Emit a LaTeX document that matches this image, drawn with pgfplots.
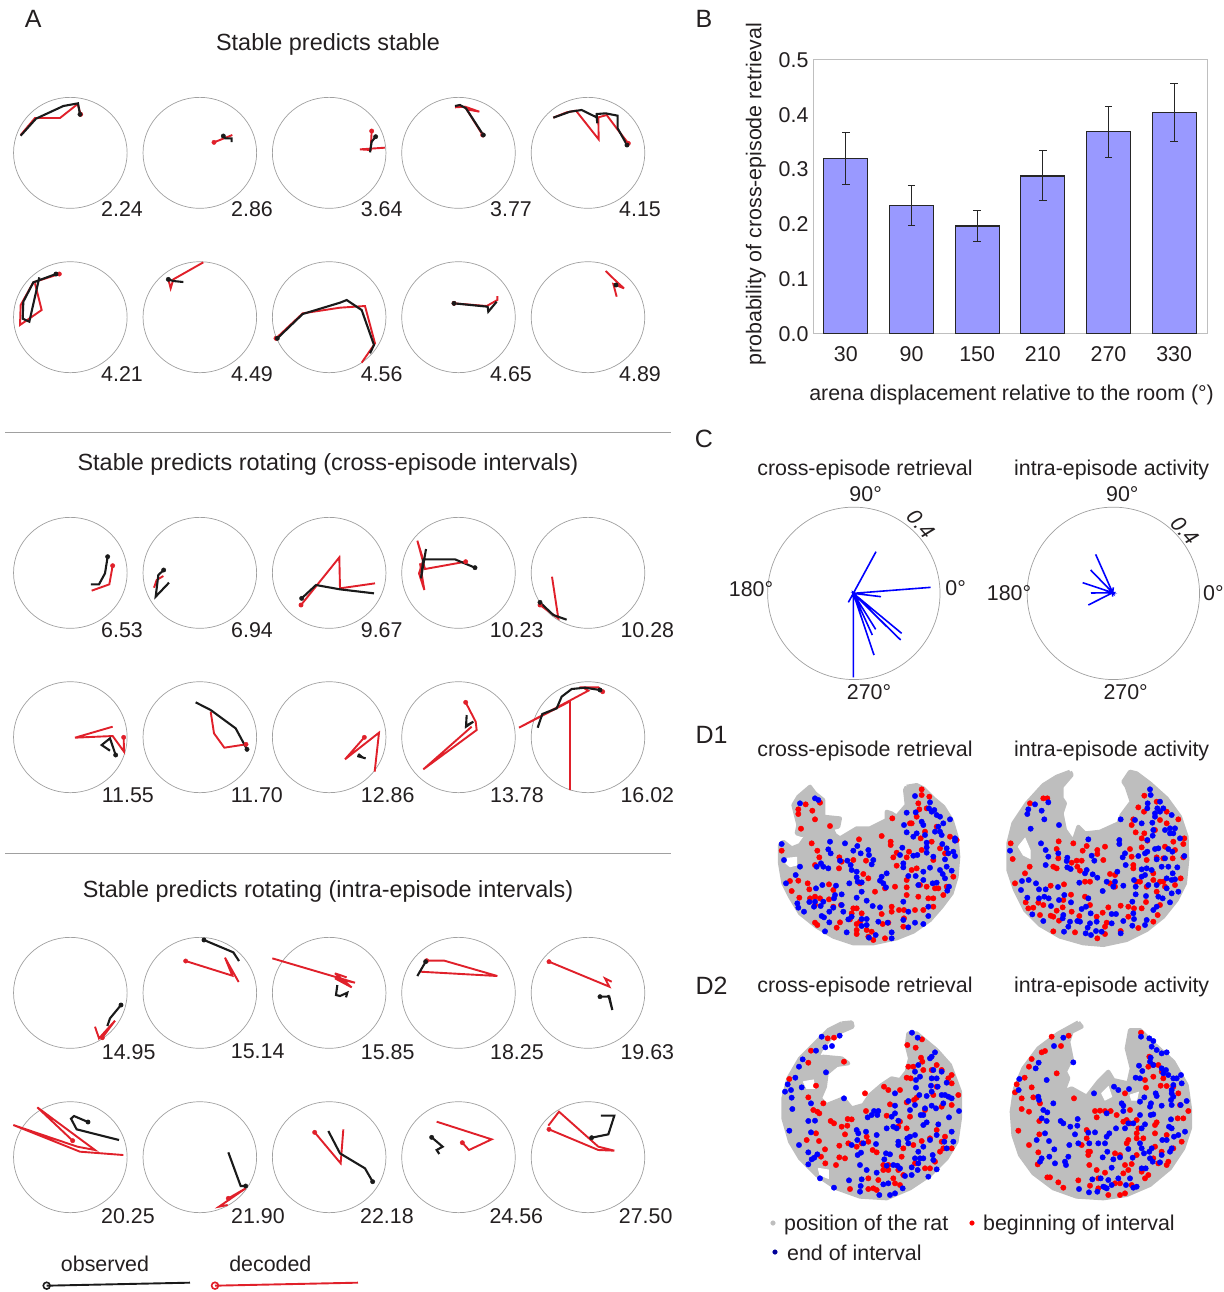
\documentclass[border=0pt]{standalone}
\usepackage{pgfplots}
\pgfplotsset{compat=1.18}
\usepackage{fontspec}
\setmainfont{Liberation Sans}
\definecolor{tcol}{HTML}{231F20}
\definecolor{rd}{HTML}{E0202A}
\definecolor{bk}{HTML}{1A1A1A}
\definecolor{cg}{HTML}{A0A0A0}
\definecolor{fg}{HTML}{BEBEBE}
\pgfplotsset{
 off/.style 2 args={x filter/.expression={x+#1}, y filter/.expression={y+#2}},
 B/.style={color=bk, line width=2.1pt, miter limit=5, mark=*, mark indices={1}, mark size=2.2pt, mark options={fill=bk, draw=bk, line width=0.4pt}},
 R/.style={color=rd, line width=1.9pt, miter limit=5, mark=*, mark indices={1}, mark size=2.2pt, mark options={fill=rd, draw=rd, line width=0.4pt}},
 BB/.style={color=bk, line width=2.1pt, miter limit=5, mark=none},
 RR/.style={color=rd, line width=1.9pt, miter limit=5, mark=none},
 foot/.style={fill=fg, draw=fg, line width=4pt, line join=round, mark=none},
 hole/.style={fill=white, draw=white, line width=1pt, mark=none},
 rdots/.style={only marks, mark=*, mark size=2.7pt, mark options={fill=red, draw=red, line width=0.4pt}},
 bdots/.style={only marks, mark=*, mark size=2.7pt, mark options={fill=blue, draw=blue, line width=0.4pt}},
 spoke/.style={color=blue, line width=1.6pt, mark=none},
}
\tikzset{lbl/.style={font=\fontsize{21.4}{25}\selectfont, text=tcol, inner sep=0pt},
 ttl/.style={font=\fontsize{23.4}{28}\selectfont, text=tcol, inner sep=0pt},
 ring/.style={draw=cg, line width=0.7pt}}
\newcommand{\ringat}[2]{\draw[ring] (axis cs:#1,#2) ellipse [x radius=56.8pt, y radius=55.5pt];}
\begin{document}
\begin{tikzpicture}
\useasboundingbox (0,0) rectangle (1223pt,1292pt);
\begin{axis}[at={(0,0)},anchor=south west,scale only axis,width=1223pt,height=1292pt,
 xmin=0,xmax=3669,ymin=0,ymax=3876,y dir=reverse,hide axis,clip=false]
% rings
\ringat{211}{458.5}\ringat{599.5}{458.5}\ringat{987.5}{458.5}\ringat{1375.5}{458.5}\ringat{1764}{458.5}
\ringat{211}{951.5}\ringat{599.5}{951.5}\ringat{987.5}{951.5}\ringat{1375.5}{951.5}\ringat{1764}{951.5}
\ringat{211}{1718.5}\ringat{599.5}{1718.5}\ringat{987.5}{1718.5}\ringat{1375.5}{1718.5}\ringat{1764}{1718.5}
\ringat{211}{2211.5}\ringat{599.5}{2211.5}\ringat{987.5}{2211.5}\ringat{1375.5}{2211.5}\ringat{1764}{2211.5}
\ringat{211}{2978.5}\ringat{599.5}{2978.5}\ringat{987.5}{2978.5}\ringat{1375.5}{2978.5}\ringat{1764}{2978.5}
\ringat{211}{3471.5}\ringat{599.5}{3471.5}\ringat{987.5}{3471.5}\ringat{1375.5}{3471.5}\ringat{1764}{3471.5}
% rules
\draw[cg,line width=0.7pt] (axis cs:15,1296)--(axis cs:2013,1296);
\draw[cg,line width=0.7pt] (axis cs:15,2559)--(axis cs:2013,2559);
% row 1
\addplot[R,off={0}{240}] coordinates {(242,103)(233,72)(180,114)(105,114)(62,165)};
\addplot[B,off={0}{240}] coordinates {(240,103)(234,70)(190,78)(108,116)(62,167)};
\addplot[R,off={0}{240}] coordinates {(642,187)(697,165)};
\addplot[B,off={0}{240}] coordinates {(670,168)(676,175)(695,175)(695,186)};
\addplot[R,off={1020}{240}] coordinates {(95,153)(92,210)(60,208)(135,203)};
\addplot[B,off={1020}{240}] coordinates {(107,170)(95,185)(90,217)};
\addplot[R,off={1020}{240}] coordinates {(428,165)(380,88)(418,95)(375,80)(345,82)};
\addplot[B,off={1020}{240}] coordinates {(430,165)(378,85)(360,75)(345,78)};
\addplot[R,off={1020}{240}] coordinates {(865,190)(830,145)(800,105)(775,112)(776,178)(708,92)(680,97)(640,113)};
\addplot[B,off={1020}{240}] coordinates {(861,195)(833,145)(833,107)(797,100)(770,102)(772,130)(770,112)(725,90)(690,95)(640,113)};
% row 2
\addplot[R,off={0}{240}] coordinates {(178,582)(100,607)(62,675)(60,735)(125,690)(105,610)};
\addplot[B,off={0}{240}] coordinates {(168,582)(100,607)(70,665)(68,716)(88,725)(118,592)};
\addplot[RR,off={0}{240}] coordinates {(610,547)(520,598)(512,625)(505,598)};
\addplot[B,off={0}{240}] coordinates {(505,598)(520,603)(550,606)};
\addplot[R,off={0}{240}] coordinates {(828,775)(908,700)(1020,683)(1095,678)(1125,790)(1085,848)};
\addplot[B,off={0}{240}] coordinates {(832,775)(908,702)(1020,668)(1040,660)(1085,690)(1122,795)(1110,820)};
\addplot[R,off={1020}{240}] coordinates {(342,670)(440,678)(472,660)(472,648)};
\addplot[B,off={1020}{240}] coordinates {(342,670)(443,680)(445,695)(470,665)};
\addplot[RR,off={1020}{240}] coordinates {(797,573)(832,607)(852,625)(820,612)(830,650)};
\addplot[B,off={1020}{240}] coordinates {(828,615)(829,616)};
% row 3
\addplot[R,off={0}{1500}] coordinates {(338,197)(328,253)(275,272)};
\addplot[B,off={0}{1500}] coordinates {(323,170)(315,220)(297,253)(273,253)};
\addplot[RR,off={0}{1500}] coordinates {(490,228)(470,240)(462,263)};
\addplot[B,off={0}{1500}] coordinates {(491,210)(475,225)(467,290)(507,248)};
\addplot[R,off={0}{1500}] coordinates {(903,315)(1018,172)(1020,265)(1125,250)};
\addplot[B,off={0}{1500}] coordinates {(905,295)(948,255)(1020,268)(1122,280)};
\addplot[R,off={1020}{1500}] coordinates {(377,185)(255,207)(232,122)(250,180)(237,220)(253,270)(240,190)};
\addplot[B,off={1020}{1500}] coordinates {(405,203)(345,178)(250,178)(243,235)(258,147)};
\addplot[R,off={1020}{1500}] coordinates {(600,315)(655,355)(636,230)};
\addplot[B,off={1020}{1500}] coordinates {(600,307)(640,345)(680,359)};
% row 4
\addplot[R,off={0}{1500}] coordinates {(371,712)(372,755)(338,708)(225,713)(338,680)};
\addplot[B,off={0}{1500}] coordinates {(347,765)(330,715)(305,735)(330,752)};
\addplot[R,off={0}{1500}] coordinates {(738,733)(673,743)(642,700)(632,635)};
\addplot[B,off={0}{1500}] coordinates {(741,748)(707,685)(632,630)(587,607)};
\addplot[R,off={1020}{1500}] coordinates {(73,712)(15,778)(117,698)(104,815)};
\addplot[BB,off={1020}{1500}] coordinates {(55,762)(65,770)(52,768)(77,775)};
\addplot[R,off={1020}{1500}] coordinates {(377,607)(407,665)(410,690)(250,808)(395,680)};
\addplot[BB,off={1020}{1500}] coordinates {(380,645)(378,680)(400,665)(382,675)};
\addplot[R,off={1020}{1500}] coordinates {(788,575)(775,562)(728,562)(745,572)(537,683)(690,604)(690,870)};
\addplot[B,off={1020}{1500}] coordinates {(780,570)(735,563)(695,567)(665,590)(650,625)(607,642)(593,683)};
% row 5
\addplot[R,off={0}{2760}] coordinates {(307,353)(345,302)(297,355)(285,320)};
\addplot[B,off={0}{2760}] coordinates {(363,255)(330,295)(322,318)};
\addplot[R,off={0}{2760}] coordinates {(557,123)(697,167)(675,113)(716,186)};
\addplot[B,off={0}{2760}] coordinates {(612,60)(700,97)(717,123)};
\addplot[RR,off={0}{2760}] coordinates {(817,115)(1065,188)(1005,175)(1055,202)(1005,160)(1040,172)};
\addplot[BB,off={0}{2760}] coordinates {(1012,195)(1008,225)(1020,228)(1042,218)(1038,232)};
\addplot[R,off={1020}{2760}] coordinates {(260,122)(313,122)(472,168)(240,155)};
\addplot[B,off={1020}{2760}] coordinates {(257,125)(232,168)};
\addplot[R,off={1020}{2760}] coordinates {(627,125)(808,200)(795,175)(815,185)};
\addplot[B,off={1020}{2760}] coordinates {(780,230)(808,230)(817,270)(805,225)};
% row 6
\addplot[R,off={0}{2760}] coordinates {(218,662)(112,562)(285,690)(232,680)(40,615)(240,695)(370,705)};
\addplot[B,off={0}{2760}] coordinates {(264,606)(222,588)(213,596)(230,628)(357,660)};
\addplot[R,off={0}{2760}] coordinates {(685,835)(737,805)(657,860)(683,855)};
\addplot[B,off={0}{2760}] coordinates {(737,798)(722,798)(685,697)};
\addplot[R,off={0}{2760}] coordinates {(944,637)(1022,730)(1030,628)};
\addplot[B,off={0}{2760}] coordinates {(1118,785)(1095,745)(1020,700)(985,633)};
\addplot[R,off={1020}{2760}] coordinates {(367,668)(387,690)(455,658)(290,605)};
\addplot[B,off={1020}{2760}] coordinates {(275,652)(308,680)(290,690)(298,702)};
\addplot[R,off={1020}{2760}] coordinates {(627,628)(775,690)(823,692)(775,680)(657,575)(625,617)};
\addplot[B,off={1020}{2760}] coordinates {(755,653)(805,643)(823,587)(783,587)};
% legend A
\addplot[color=bk,line width=1.9pt,mark=o,mark indices={1},mark size=3.4pt,mark options={draw=bk,fill=white,line width=1.6pt}] coordinates {(140,3857)(570,3848)};
\addplot[color=rd,line width=1.9pt,mark=o,mark indices={1},mark size=3.4pt,mark options={draw=rd,fill=white,line width=1.6pt}] coordinates {(645,3857)(1074,3848)};
% labels A
\foreach \t/\x/\y in {2.24/303/628,2.86/693/628,3.64/1082/628,3.77/1470/628,4.15/1857/628,
 4.21/303/1122,4.49/693/1122,4.56/1082/1122,4.65/1470/1122,4.89/1857/1122,
 6.53/303/1890,6.94/693/1890,9.67/1082/1890,10.23/1469/1890,10.28/1861/1890,
 11.55/305/2385,11.70/692/2385,12.86/1082/2385,13.78/1470/2385,16.02/1861/2385,
 14.95/305/3155,15.14/692/3155,15.85/1082/3155,18.25/1470/3155,19.63/1861/3155,
 20.25/303/3648,21.90/693/3648,22.18/1080/3648,24.56/1468/3648,27.50/1856/3648}{
 \edef\temp{\noexpand\node[lbl,anchor=west] at (axis cs:\x,\y) {\t};}\temp}
\node[ttl] at (axis cs:984,133) {Stable predicts stable};
\node[ttl] at (axis cs:984,1393) {Stable predicts rotating (cross-episode intervals)};
\node[ttl] at (axis cs:984,2673) {Stable predicts rotating (intra-episode intervals)};
\node[lbl] at (axis cs:315,3792) {observed};
\node[lbl] at (axis cs:811,3792) {decoded};
\node[lbl,font=\fontsize{25}{28}\selectfont] at (axis cs:100,57) {A};
\node[lbl,font=\fontsize{25}{28}\selectfont] at (axis cs:2112,57) {B};
\node[lbl,font=\fontsize{25}{28}\selectfont] at (axis cs:2112,1317) {C};
\node[lbl,font=\fontsize{25}{28}\selectfont] at (axis cs:2135,2205) {D1};
\node[lbl,font=\fontsize{25}{28}\selectfont] at (axis cs:2135,2958) {D2};
% panel C
\draw[cg,line width=0.7pt] (axis cs:2561.5,1780) circle [radius=86.2pt];
\draw[cg,line width=0.7pt] (axis cs:3340,1780) circle [radius=86.2pt];
\addplot[spoke,off={2160}{1410}] coordinates {(400,370)(468,245)(400,370)(385,397)(400,370)(632,352)(400,370)(483,380)(400,370)(545,490)(400,370)(542,510)(400,370)(500,470)(400,370)(462,555)(400,370)(457,495)(400,370)(467,478)(400,370)(400,622)};
\addplot[spoke,off={2160}{1410}] coordinates {(1178,368)(1127,253)(1178,368)(1112,300)(1178,368)(1088,338)(1178,368)(1113,369)(1178,368)(1105,405)(1178,368)(1180,352)(1178,368)(1178,380)};
\node[lbl] at (axis cs:2597,1482) {90°};
\node[lbl,rotate=-48] at (axis cs:2764,1572) {\textit{0.4}};
\node[lbl] at (axis cs:2253,1768) {180°};
\node[lbl] at (axis cs:2867,1765) {0°};
\node[lbl] at (axis cs:2607,2075) {270°};
\node[lbl] at (axis cs:3367,1482) {90°};
\node[lbl,rotate=-48] at (axis cs:3556,1592) {\textit{0.4}};
\node[lbl] at (axis cs:3027,1780) {180°};
\node[lbl] at (axis cs:3640,1780) {0°};
\node[lbl] at (axis cs:3377,2075) {270°};
\node[lbl] at (axis cs:2595,1409) {cross-episode retrieval};
\node[lbl] at (axis cs:3335,1409) {intra-episode activity};
\node[lbl] at (axis cs:2595,2252) {cross-episode retrieval};
\node[lbl] at (axis cs:3335,2252) {intra-episode activity};
\node[lbl] at (axis cs:2595,2960) {cross-episode retrieval};
\node[lbl] at (axis cs:3335,2960) {intra-episode activity};
% D1 left
\addplot[foot,off={2280}{2310}] coordinates {(440,50)(470,45)(490,55)(520,85)(550,110)(575,150)(590,200)(595,260)(590,320)(575,370)(545,410)(510,450)(460,485)(410,505)(340,520)(280,520)(220,500)(170,470)(120,430)(90,380)(70,340)(60,280)(60,225)(70,215)(95,235)(120,225)(145,190)(125,195)(110,190)(115,165)(100,105)(115,80)(150,50)(165,70)(190,90)(190,140)(240,145)(235,170)(215,175)(225,195)(240,205)(290,175)(330,175)(380,150)(380,125)(395,130)(410,140)(440,105)(435,60)(440,50)};
\addplot[hole,off={2280}{2310}] coordinates {(80,265)(110,262)(110,285)(90,290)(78,280)(80,265)};
\addplot[rdots,off={2280}{2310}] coordinates {(485,58)(485,75)(508,80)(475,100)(478,118)(500,115)(115,118)(115,132)(137,103)(157,122)(180,98)(165,148)(123,176)(210,168)(155,220)(172,242)(178,262)(165,285)(238,262)(245,275)(237,295)(280,270)(297,208)(365,198)(392,215)(392,225)(397,145)(410,248)(400,262)(318,272)(410,287)(447,245)(440,262)(485,240)(482,205)(450,160)(455,160)(470,140)(495,185)(530,170)(570,200)(590,210)(540,235)(515,215)(555,250)(520,270)(470,295)(455,300)(440,330)(440,352)(440,375)(475,380)(405,350)(345,365)(310,312)(325,325)(300,340)(375,355)(90,333)(115,332)(95,363)(118,383)(143,340)(148,358)(150,385)(165,380)(180,385)(165,405)(207,343)(220,360)(207,388)(220,410)(243,405)(280,415)(290,415)(275,430)(305,430)(365,432)(395,410)(395,425)(417,420)(432,420)(432,445)(430,470)(465,420)(490,420)(520,410)(505,385)(520,385)(535,355)(550,375)(500,350)(480,345)(165,458)(172,465)(240,457)(230,473)(290,462)(290,480)(290,492)(300,455)(320,480)(335,485)(325,500)(340,510)(375,505)(368,462)(385,458)(270,448)(580,320)(560,350)(525,355)(65,242)};
\addplot[bdots,off={2280}{2310}] coordinates {(465,78)(510,97)(507,115)(515,125)(523,120)(530,135)(540,140)(550,160)(535,170)(540,185)(525,185)(570,148)(545,195)(585,205)(585,212)(495,195)(470,190)(460,200)(485,155)(490,165)(440,128)(467,127)(432,165)(440,187)(500,218)(500,232)(427,233)(420,255)(460,257)(472,255)(500,248)(520,260)(547,222)(560,235)(565,250)(580,245)(585,258)(555,268)(510,293)(490,305)(430,280)(430,292)(540,300)(560,290)(575,302)(548,312)(555,325)(445,318)(467,318)(490,330)(475,345)(518,340)(530,338)(567,350)(562,362)(120,100)(165,85)(175,90)(210,215)(205,238)(212,250)(255,220)(280,242)(292,228)(302,250)(325,240)(327,255)(340,270)(335,283)(120,290)(183,280)(170,290)(190,290)(205,295)(240,272)(262,272)(272,285)(275,300)(290,305)(290,322)(268,340)(293,335)(305,337)(380,310)(365,320)(360,332)(370,340)(378,352)(65,222)(72,270)(107,315)(78,340)(168,355)(187,345)(228,347)(225,375)(222,385)(245,373)(148,396)(165,395)(190,395)(182,408)(112,400)(115,413)(132,425)(162,410)(220,413)(245,405)(208,425)(185,438)(192,442)(208,457)(250,425)(275,440)(265,448)(290,383)(305,365)(320,392)(338,408)(360,412)(305,447)(320,447)(305,468)(320,465)(355,455)(383,458)(430,395)(445,425)(430,450)(445,472)(465,458)(490,462)(505,438)(505,410)(195,484)(260,487)(347,495)(327,503)(395,487)(395,505)};
% D1 right
\addplot[foot,off={2970}{2310}] coordinates {(240,5)(245,15)(215,50)(215,85)(225,100)(215,130)(225,180)(250,215)(265,170)(285,190)(330,185)(385,160)(395,135)(425,95)(410,50)(400,35)(420,5)(440,10)(480,40)(530,85)(570,140)(590,200)(592,270)(585,340)(560,390)(520,440)(470,480)(410,510)(340,525)(280,520)(210,500)(150,465)(105,420)(75,360)(55,300)(55,220)(70,160)(110,100)(160,45)(200,20)(240,5)};
\addplot[hole,off={2970}{2310}] coordinates {(85,230)(105,205)(120,240)(120,265)(100,255)(85,230)};
\addplot[rdots,off={2970}{2310}] coordinates {(463,77)(445,112)(462,125)(500,95)(530,125)(565,148)(510,150)(530,160)(430,148)(425,165)(437,187)(463,190)(455,205)(472,212)(495,180)(550,215)(583,205)(580,222)(555,240)(525,230)(520,265)(548,265)(580,262)(420,237)(425,260)(430,285)(430,295)(455,232)(500,262)(470,270)(120,100)(160,85)(172,85)(62,220)(68,267)(119,290)(105,310)(75,340)(206,214)(200,237)(205,265)(190,290)(200,295)(250,220)(278,242)(290,228)(322,240)(345,230)(322,252)(340,270)(245,278)(260,272)(275,272)(262,290)(270,302)(222,343)(182,347)(285,335)(300,335)(360,312)(375,315)(360,340)(375,350)(440,335)(450,335)(490,330)(510,335)(490,310)(520,335)(572,325)(555,345)(525,350)(500,365)(470,350)(107,397)(115,415)(130,413)(145,398)(150,435)(160,405)(182,437)(190,440)(200,422)(218,412)(207,452)(243,374)(245,425)(268,438)(220,390)(300,405)(285,380)(320,440)(338,428)(355,412)(392,407)(350,458)(345,470)(415,410)(432,415)(415,440)(445,474)(468,396)(455,415)(503,435)(490,455)(510,405)(190,484)(255,487)(345,492)(322,505)(392,483)};
\addplot[bdots,off={2970}{2310}] coordinates {(480,58)(482,75)(473,100)(472,115)(510,95)(502,115)(520,115)(510,125)(545,135)(495,130)(495,140)(487,158)(490,180)(488,197)(472,210)(525,180)(540,175)(550,190)(555,175)(540,190)(570,205)(435,150)(455,160)(392,148)(388,210)(388,222)(135,103)(175,97)(155,122)(115,118)(112,132)(163,148)(122,176)(207,165)(153,220)(60,242)(167,240)(175,260)(205,250)(167,285)(232,263)(230,273)(232,292)(242,297)(295,208)(305,257)(313,272)(290,300)(285,310)(308,313)(322,323)(268,338)(382,305)(350,335)(375,335)(370,350)(400,347)(338,363)(405,250)(398,262)(407,285)(445,258)(465,250)(472,245)(495,237)(505,235)(535,237)(547,245)(583,258)(500,268)(525,265)(455,298)(470,295)(485,300)(515,290)(535,290)(562,292)(548,310)(530,325)(545,330)(555,328)(465,315)(455,320)(432,330)(437,350)(475,345)(500,345)(530,355)(545,370)(565,365)(505,380)(518,385)(540,397)(468,378)(437,373)(427,395)(112,383)(96,333)(116,330)(93,360)(138,340)(147,358)(167,358)(204,351)(147,385)(163,380)(176,385)(183,408)(207,390)(223,375)(127,433)(160,453)(220,435)(218,445)(243,397)(240,455)(235,470)(222,485)(262,453)(270,455)(275,417)(288,410)(295,385)(302,430)(300,460)(293,473)(287,490)(303,495)(320,455)(318,483)(335,485)(365,432)(378,432)(365,460)(400,453)(430,430)(432,447)(427,467)(470,450)(465,465)(490,420)(500,410)(392,490)};
% D2 left
\addplot[foot,off={2280}{3045}] coordinates {(245,25)(275,22)(278,35)(220,60)(185,100)(170,130)(190,125)(245,130)(265,145)(230,150)(200,175)(195,215)(180,250)(200,270)(250,250)(275,280)(310,270)(330,240)(365,210)(395,190)(420,195)(440,170)(450,130)(440,90)(445,55)(470,55)(530,105)(570,150)(600,230)(600,310)(590,380)(560,430)(510,480)(450,520)(380,550)(300,545)(230,520)(170,480)(120,430)(90,380)(70,310)(70,250)(85,190)(120,130)(165,85)(205,45)(245,25)};
\addplot[hole,off={2280}{3045}] coordinates {(130,200)(160,195)(165,220)(140,220)(130,200)};
\addplot[hole,off={2280}{3045}] coordinates {(175,460)(205,465)(205,490)(180,480)(175,460)};
\addplot[rdots,off={2280}{3045}] coordinates {(486,73)(442,90)(467,98)(203,70)(222,68)(153,107)(145,143)(252,140)(88,192)(168,212)(145,247)(190,265)(160,285)(172,290)(178,295)(212,318)(222,325)(263,312)(275,313)(262,332)(245,335)(255,358)(168,355)(140,375)(177,378)(265,385)(238,392)(195,403)(183,425)(196,445)(238,427)(255,430)(228,450)(315,235)(372,215)(385,225)(445,155)(460,155)(440,188)(452,190)(483,128)(487,140)(490,165)(515,165)(530,150)(545,165)(575,180)(565,190)(575,205)(530,215)(595,240)(575,270)(545,275)(520,240)(470,248)(462,255)(440,262)(390,268)(420,225)(318,288)(380,302)(420,320)(415,335)(440,340)(450,305)(495,285)(510,370)(485,378)(460,390)(530,345)(545,380)(555,365)(550,400)(575,400)(540,410)(525,440)(510,460)(495,460)(430,400)(425,425)(465,445)(370,450)(385,450)(370,465)(385,465)(415,465)(430,480)(400,490)(405,505)(420,510)(355,495)(325,490)(270,522)(325,522)(340,520)(350,525)(338,405)(350,412)(320,365)(325,380)(305,385)(290,395)};
\addplot[bdots,off={2280}{3045}] coordinates {(456,53)(473,68)(185,65)(239,62)(196,97)(216,93)(168,107)(128,133)(117,155)(106,188)(83,208)(75,230)(93,225)(95,248)(97,282)(125,217)(198,172)(252,250)(153,265)(145,318)(165,317)(88,347)(153,352)(117,390)(145,412)(172,418)(163,428)(155,433)(145,448)(405,235)(405,272)(342,288)(355,288)(352,300)(335,300)(323,307)(405,295)(395,305)(415,317)(380,340)(400,335)(410,340)(290,345)(295,355)(318,350)(350,360)(292,375)(275,390)(310,385)(348,387)(303,413)(293,420)(300,450)(320,465)(350,473)(378,415)(390,418)(373,433)(380,452)(400,450)(412,452)(420,460)(415,380)(415,390)(442,370)(445,385)(450,365)(465,360)(468,218)(468,195)(480,185)(475,150)(465,170)(515,125)(525,112)(510,130)(520,165)(545,170)(515,190)(530,190)(560,203)(513,212)(533,215)(515,230)(545,240)(555,240)(565,245)(575,250)(550,265)(500,243)(478,240)(465,270)(445,258)(450,285)(495,280)(515,272)(528,280)(482,300)(490,300)(490,330)(500,322)(535,328)(567,307)(597,288)(575,350)(530,360)(553,380)(510,375)(560,400)(580,380)(518,420)(520,435)(490,395)(475,410)(465,430)(480,430)(490,430)(475,445)(455,457)(473,465)(530,463)(505,485)(455,480)(435,483)(267,496)(305,493)(222,518)(302,513)(300,530)(358,540)(370,508)(385,505)(390,540)(405,535)(428,520)(180,490)};
% D2 right
\addplot[foot,off={2970}{3045}] coordinates {(265,22)(275,35)(245,50)(235,80)(245,130)(225,170)(235,190)(220,230)(245,220)(290,245)(325,200)(355,170)(370,195)(415,205)(425,160)(410,100)(420,45)(450,45)(490,85)(550,140)(590,210)(600,280)(600,340)(580,400)(540,460)(480,510)(410,540)(340,550)(260,545)(190,520)(130,475)(90,420)(70,360)(65,290)(75,220)(100,160)(145,100)(205,55)(265,22)};
\addplot[hole,off={2970}{3045}] coordinates {(335,235)(355,215)(365,245)(345,255)(335,235)};
\addplot[hole,off={2970}{3045}] coordinates {(420,240)(445,232)(440,255)(425,255)(420,240)};
\addplot[rdots,off={2970}{3045}] coordinates {(453,53)(185,65)(236,62)(213,93)(165,108)(155,112)(125,132)(117,155)(104,188)(80,208)(75,232)(125,217)(200,175)(95,250)(130,247)(150,265)(95,282)(117,290)(148,318)(85,347)(148,358)(117,390)(145,412)(143,448)(180,487)(172,487)(205,502)(220,518)(265,496)(252,250)(315,288)(330,287)(345,288)(362,288)(320,307)(380,300)(405,235)(420,285)(468,218)(490,150)(478,125)(475,155)(465,195)(490,185)(512,212)(530,213)(515,170)(520,190)(505,150)(565,235)(550,215)(570,270)(595,288)(563,310)(500,322)(495,330)(580,310)(530,360)(495,355)(445,340)(440,355)(410,385)(415,375)(440,370)(460,370)(410,315)(440,315)(400,320)(420,325)(290,345)(290,370)(275,390)(295,410)(300,410)(295,420)(298,450)(320,465)(345,473)(375,415)(390,420)(405,450)(425,447)(415,465)(400,475)(440,420)(455,470)(465,490)(475,480)(495,395)(490,430)(530,450)(535,440)(505,445)(515,410)(575,380)(550,400)(375,505)(390,505)(325,490)(300,512)(325,520)(355,540)(390,540)(405,535)(425,510)};
\addplot[bdots,off={2970}{3045}] coordinates {(453,65)(478,70)(490,78)(485,95)(500,105)(515,115)(530,112)(482,128)(480,140)(490,150)(447,152)(457,168)(437,188)(450,190)(220,68)(192,93)(146,143)(137,160)(170,195)(250,142)(88,192)(86,225)(145,245)(147,255)(190,265)(160,285)(172,292)(155,310)(170,318)(212,318)(220,325)(263,312)(262,332)(241,335)(255,358)(165,355)(140,375)(177,378)(265,385)(238,390)(193,403)(178,425)(155,430)(150,440)(195,445)(235,425)(228,450)(225,440)(312,235)(372,215)(385,225)(417,222)(350,295)(378,340)(405,340)(415,325)(430,325)(295,353)(315,352)(350,365)(358,355)(298,385)(325,385)(345,385)(352,410)(338,427)(370,433)(390,427)(365,458)(415,402)(428,428)(450,385)(455,400)(462,415)(478,410)(485,400)(480,430)(488,440)(510,442)(515,420)(540,410)(545,400)(517,375)(530,375)(552,365)(565,360)(585,350)(537,335)(545,340)(543,313)(490,298)(465,328)(455,340)(400,272)(395,265)(400,288)(450,260)(463,247)(483,265)(480,275)(450,300)(482,300)(497,235)(500,243)(515,272)(543,255)(545,270)(550,245)(590,258)(572,270)(545,235)(545,225)(550,210)(515,160)(528,165)(520,175)(535,180)(550,190)(560,190)(573,180)(575,205)(467,460)(455,460)(307,493)(332,490)(355,495)(385,490)(420,490)(408,510)(440,515)(430,518)(345,517)(350,520)(322,530)(297,532)(267,522)(365,510)(340,515)};
% legend D
\addplot[only marks,mark=*,mark size=2.3pt,mark options={fill=fg,draw=fg,line width=0.4pt}] coordinates {(2319,3669)};
\addplot[only marks,mark=*,mark size=2.3pt,mark options={fill=red,draw=red,line width=0.4pt}] coordinates {(2916,3669)};
\addplot[only marks,mark=*,mark size=2.3pt,mark options={fill=blue!60!black,draw=blue!60!black,line width=0.4pt}] coordinates {(2325,3756)};
\node[lbl,anchor=west] at (axis cs:2352,3674) {position of the rat};
\node[lbl,anchor=west] at (axis cs:2949,3674) {beginning of interval};
\node[lbl,anchor=west] at (axis cs:2361,3759) {end of interval};
\end{axis}
% panel B
\begin{axis}[at={(813pt,958.3pt)},anchor=south west,scale only axis,width=394pt,height=273.7pt,
 ybar,bar width=44pt,xmin=-0.5,xmax=5.5,ymin=0,ymax=0.5,
 xtick={0,1,2,3,4,5},xticklabels={30,90,150,210,270,330},
 ytick={0,0.1,0.2,0.3,0.4,0.5},
 yticklabel style={/pgf/number format/.cd,fixed,fixed zerofill,precision=1,assume math mode=true},
 tick label style={font=\fontsize{21.4}{25}\selectfont,text=tcol},
 axis line style={draw=black!25,line width=1pt},
 tick style={draw=none},
 tick align=outside,xtick pos=bottom,ytick pos=left,major tick length=0pt,
 xticklabel shift=9pt,yticklabel shift=1pt,
 xlabel={arena displacement relative to the room (°)},
 ylabel={probability of cross-episode retrieval},
 every axis x label/.style={at={(axis description cs:0.504,-0.223)},anchor=center,font=\fontsize{21.4}{25}\selectfont,text=tcol},
 every axis y label/.style={at={(axis description cs:-0.145,0.509)},anchor=center,rotate=90,font=\fontsize{21.4}{25}\selectfont,text=tcol},
 ]
\addplot[fill=blue!40,draw=black!85,line width=1.1pt,
 error bars/.cd,y dir=both,y explicit,error bar style={black!85,line width=1.1pt},error mark options={rotate=90,mark size=3.7pt,black!85,line width=1pt}]
 coordinates {(0,0.3204) +=(0,0.048) -=(0,0.047)
 (1,0.2345) +=(0,0.0365) -=(0,0.036)
 (2,0.1967) +=(0,0.0287) -=(0,0.0287)
 (3,0.288) +=(0,0.0458) -=(0,0.0456)
 (4,0.37) +=(0,0.0454) -=(0,0.0478)
 (5,0.4044) +=(0,0.0523) -=(0,0.0537)};
\end{axis}
\end{tikzpicture}
\end{document}
